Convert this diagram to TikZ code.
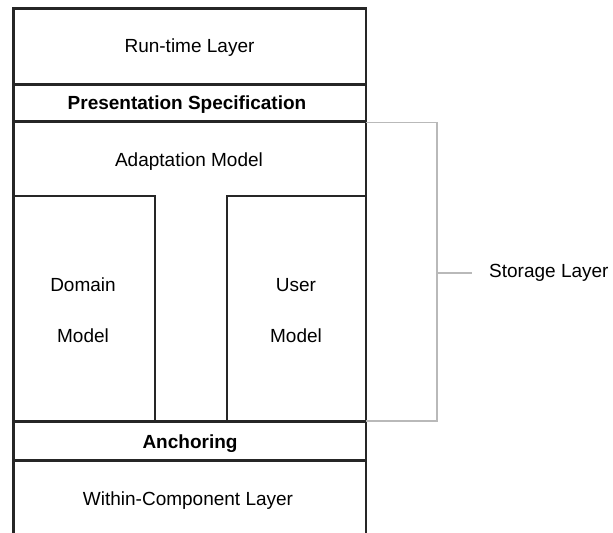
\documentclass[tikz,border=0pt]{standalone}
\usepackage{fontspec}
\setmainfont{Liberation Sans}
\definecolor{bracketgray}{RGB}{185,185,185}
\begin{document}
\begin{tikzpicture}[x=1bp,y=-1bp,
  frame/.style={draw=black!85, line width=2.2bp, line join=miter},
  bracket/.style={draw=bracketgray, line width=1.6bp},
  lbl/.style={anchor=base, inner sep=0pt, font=\fontsize{19bp}{22bp}\selectfont},
  blbl/.style={lbl, font=\fontsize{19bp}{22bp}\selectfont\bfseries}]
\useasboundingbox (0,0) rectangle (613,533);
\fill[white] (0,0) rectangle (613,533);
% outer frame (open at the bottom)
\draw[frame] (13.5,533) -- (13.5,8.5) -- (366,8.5) -- (366,533);
% layer separators
\draw[frame] (13.5,84.5) -- (366,84.5);
\draw[frame] (13.5,121.5) -- (366,121.5);
\draw[frame] (13.5,421.5) -- (366,421.5);
\draw[frame] (13.5,460.5) -- (366,460.5);
% domain and user model boxes
\draw[frame] (13.5,196) -- (155,196) -- (155,421.5);
\draw[frame] (366,196) -- (227,196) -- (227,421.5);
% texts
\node[lbl]  (rt)   at (189.5,53)  {Run-time Layer};
\node[blbl] (ps)   at (187,110)   {Presentation Specification};
\node[lbl]  (am)   at (189,167)   {Adaptation Model};
\node[lbl]  (dm1)  at (83,291)    {Domain};
\node[lbl]  (dm2)  at (83,342)    {Model};
\node[lbl]  (um1)  at (296,291)   {User};
\node[lbl]  (um2)  at (296,342)   {Model};
\node[blbl] (anc)  at (190,448)   {Anchoring};
\node[lbl]  (wc)   at (188,505)   {Within-Component Layer};
\node[lbl, anchor=base west] (sl) at (489,277) {Storage Layer};
% storage bracket
\coordinate (bt) at (366,122.7);
\coordinate (btc) at (437,122.7);
\coordinate (bb) at (366,421);
\coordinate (bbc) at (437,421);
\coordinate (bm) at (437,272.7);
\coordinate (bme) at (472,272.7);
\draw[bracket] (bt) -- (btc) -- (bbc) -- (bb);
\draw[bracket] (bm) -- (bme);
\end{tikzpicture}
\end{document}
